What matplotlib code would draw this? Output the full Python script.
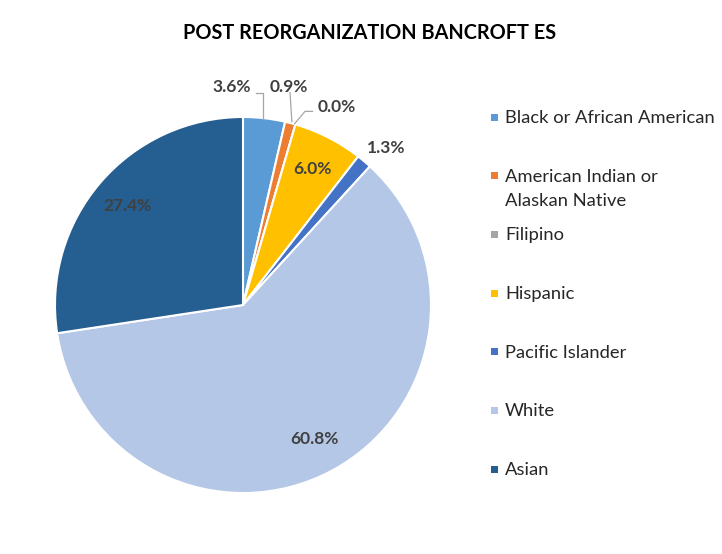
import numpy as np
import matplotlib.pyplot as plt
from matplotlib.patches import Rectangle

plt.rcParams['font.family'] = ['Lato', 'DejaVu Sans']

# data
groups = ['Black or African American', 'American Indian or\nAlaskan Native', 'Filipino',
          'Hispanic', 'Pacific Islander', 'White', 'Asian']
shares = [3.6, 0.9, 0.0, 6.0, 1.3, 60.8, 27.4]
colors = ['#5B9BD5', '#ED7D31', '#A5A5A5', '#FFC000', '#4472C4', '#B4C7E7', '#255E91']

W, H = 722, 554
fig = plt.figure(figsize=(W / 100, H / 100), dpi=100)
ax = fig.add_axes([55 / W, 61 / H, 376 / W, 376 / H])

wedges, _ = ax.pie(shares, colors=colors, startangle=90, counterclock=False,
                   radius=1, wedgeprops=dict(edgecolor='white', linewidth=1.5))
ax.set_xlim(-1, 1)
ax.set_ylim(-1, 1)
ax.set_aspect('equal')

lab_color = '#404040'
lab_size = 12.5
# where each label goes: None = inside, else (text xy, leader points)
outside = {
    0: ((-0.06, 1.16), [(0.107, 0.99), (0.107, 1.13), (0.07, 1.13)]),
    1: ((0.245, 1.16), [(0.26, 0.975), (0.25, 1.13)]),
    2: ((0.50, 1.055), [(0.275, 0.965), (0.33, 1.03), (0.37, 1.03)]),
    4: ((0.76, 0.835), None),
}
for i, w in enumerate(wedges):
    txt = f'{shares[i]:.1f}%'
    if i in outside:
        (tx, ty), pts = outside[i]
        if pts:
            xs, ys = zip(*pts)
            ax.plot(xs, ys, color='#A6A6A6', lw=0.9, clip_on=False)
        ax.text(tx, ty, txt, ha='center', va='center', fontsize=lab_size,
                fontweight='bold', color=lab_color, clip_on=False)
    else:
        ang = np.deg2rad((w.theta1 + w.theta2) / 2)
        ax.text(0.81 * np.cos(ang), 0.81 * np.sin(ang), txt, ha='center', va='center',
                fontsize=lab_size, fontweight='bold', color=lab_color)

fig.text(370 / W, 1 - 33 / H, 'POST REORGANIZATION BANCROFT ES', ha='center',
         va='center', fontsize=14.3, fontweight='bold', color='black')

# legend, excel style: first lines evenly spaced, wrapped text hangs below
for i, (g, c) in enumerate(zip(groups, colors)):
    yc = 117 + i * 58.7
    fig.add_artist(Rectangle((491 / W, 1 - (yc + 3.5) / H), 7 / W, 7 / H,
                             transform=fig.transFigure, color=c, lw=0))
    fig.text(505 / W, 1 - (yc - 7) / H, g, ha='left', va='top', fontsize=13.2,
             color='#262626', linespacing=1.62)

fig.savefig('out.png', dpi=100, facecolor='white')
